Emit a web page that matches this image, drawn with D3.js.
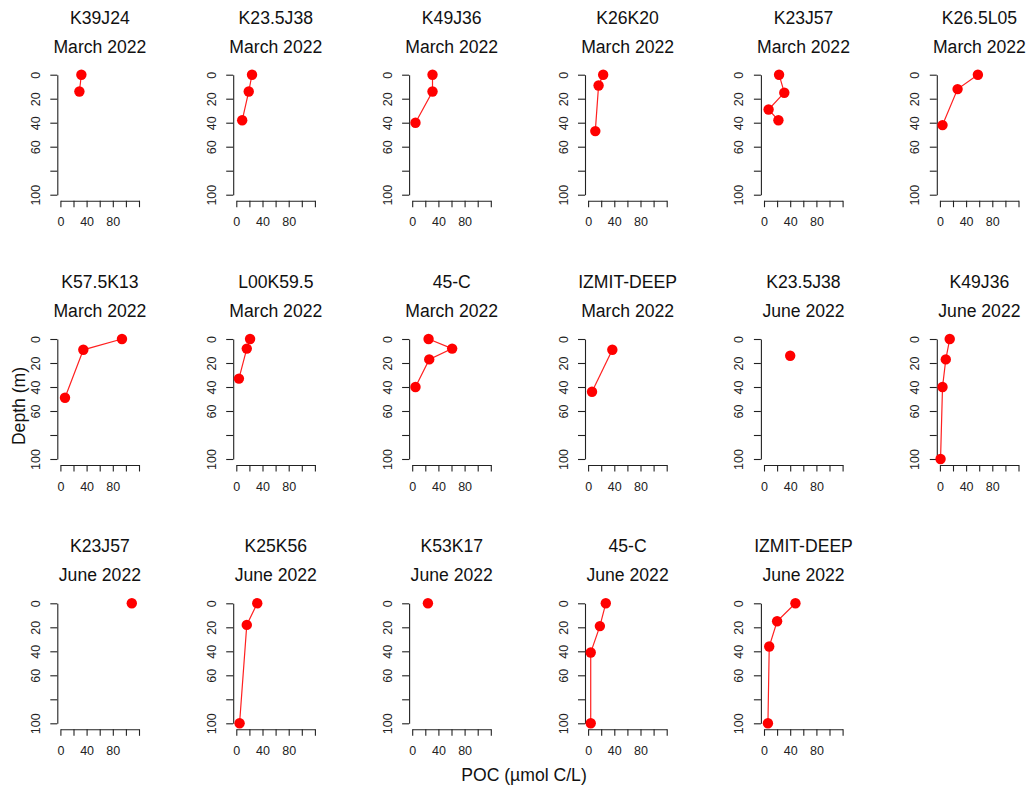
<!DOCTYPE html>
<html>
<head>
<meta charset="utf-8">
<script src="https://cdn.jsdelivr.net/npm/d3@7"></script>
<style>
  body { margin: 0; background: #fff; }
  svg { display: block; font-family: "Liberation Sans", Arial, sans-serif; }
</style>
</head>
<body>
<svg id="chart" width="1027" height="789"></svg>
<script>
// station names and sampling months, one per panel
var stations = ["K39J24", "K23.5J38", "K49J36", "K26K20", "K23J57", "K26.5L05",
                "K57.5K13", "L00K59.5", "45-C", "IZMIT-DEEP", "K23.5J38", "K49J36",
                "K23J57", "K25K56", "K53K17", "45-C", "IZMIT-DEEP"]
var months = ["March 2022", "March 2022", "March 2022", "March 2022", "March 2022", "March 2022",
              "March 2022", "March 2022", "March 2022", "March 2022", "June 2022", "June 2022",
              "June 2022", "June 2022", "June 2022", "June 2022", "June 2022"]

// POC (umol C/L) per panel
var poc = [
  [32, 29], [24, 19, 9], [31, 31, 5], [23, 16, 11], [23, 31, 7, 22], [58, 27, 4],
  [94, 35, 7], [21, 16, 4], [25, 61, 26, 5], [37, 6], [40], [15, 9, 4, 1],
  [109], [32, 16, 5], [24], [27, 18, 4, 4], [48, 20, 8, 6]
]
// sampling depth (m) per panel
var depth = [
  [0, 14], [0, 14, 38], [0, 14, 40], [0, 9, 47], [0, 15, 29, 38], [0, 12, 42],
  [0, 9, 49], [0, 8, 33], [0, 8, 17, 40], [9, 44], [14], [0, 17, 40, 100],
  [0], [0, 18, 100], [0], [0, 19, 41, 100], [0, 15, 36, 100]
]

var xTicks = [0, 20, 40, 60, 80, 100, 120]
var xLabels = [0, 40, 80]
var yTicks = [0, 20, 40, 60, 80, 100]
var yLabels = [0, 20, 40, 60, 100]

var svg = d3.select("#chart")
svg.append("rect").attr("width", 1027).attr("height", 789).attr("fill", "#fff")

var ncol = 6
var colStep = 175.9, rowStep = 264.3
var left0 = 57.3, top0 = 74.7

stations.forEach(function(name, i) {
  var c = i % ncol, r = Math.floor(i / ncol)
  var ax = left0 + c * colStep   // y-axis line
  var ty = top0 + r * rowStep    // depth 0

  var x = d3.scaleLinear().domain([0, 120]).range([ax + 3.1, ax + 81.7])
  var y = d3.scaleLinear().domain([0, 100]).range([ty, ty + 120])

  var g = svg.append("g")

  // titles
  var cx = ax + 42.6
  g.append("text").attr("x", cx).attr("y", ty - 51)
    .attr("text-anchor", "middle").attr("font-size", 17.6).attr("fill", "#111")
    .text(name)
  g.append("text").attr("x", cx).attr("y", ty - 22)
    .attr("text-anchor", "middle").attr("font-size", 17.6).attr("fill", "#111")
    .text(months[i])

  // y axis
  var ya = g.append("g").attr("transform", "translate(" + ax + ",0)")
    .call(d3.axisLeft(y).tickValues(yTicks).tickSize(7).tickSizeOuter(0)
      .tickFormat(function(d) { return yLabels.indexOf(d) >= 0 ? d : "" }))
  ya.selectAll("text")
    .attr("transform", "rotate(-90)")
    .attr("x", 0).attr("y", -17.5).attr("dy", null)
    .attr("text-anchor", "middle")

  // x axis
  var xa = g.append("g").attr("transform", "translate(0," + (ty + 126) + ")")
    .call(d3.axisBottom(x).tickValues(xTicks).tickSize(6.5).tickSizeOuter(0)
      .tickFormat(function(d) { return xLabels.indexOf(d) >= 0 ? d : "" }))
  xa.selectAll("text").attr("y", 25.5).attr("dy", null)

  g.selectAll(".domain, .tick line").attr("stroke", "#222").attr("stroke-width", 1.1)
  g.selectAll(".tick text").attr("font-size", 12.5).attr("fill", "#222")
    .attr("font-family", "Liberation Sans, Arial, sans-serif")

  // profile
  var pts = poc[i].map(function(v, k) { return [v, depth[i][k]] })
  g.append("path").datum(pts)
    .attr("fill", "none").attr("stroke", "#ff2020").attr("stroke-width", 1.2)
    .attr("d", d3.line().x(function(d) { return x(d[0]) }).y(function(d) { return y(d[1]) }))
  g.selectAll("circle").data(pts).enter().append("circle")
    .attr("cx", function(d) { return x(d[0]) })
    .attr("cy", function(d) { return y(d[1]) })
    .attr("r", 5.2).attr("fill", "#ff0000")
})

// outer axis titles
svg.append("text")
  .attr("transform", "translate(24.5,406) rotate(-90)")
  .attr("text-anchor", "middle").attr("font-size", 17.6).attr("fill", "#111")
  .text("Depth (m)")
svg.append("text").attr("x", 524).attr("y", 781)
  .attr("text-anchor", "middle").attr("font-size", 17.6).attr("fill", "#111")
  .text("POC (µmol C/L)")
</script>
</body>
</html>
